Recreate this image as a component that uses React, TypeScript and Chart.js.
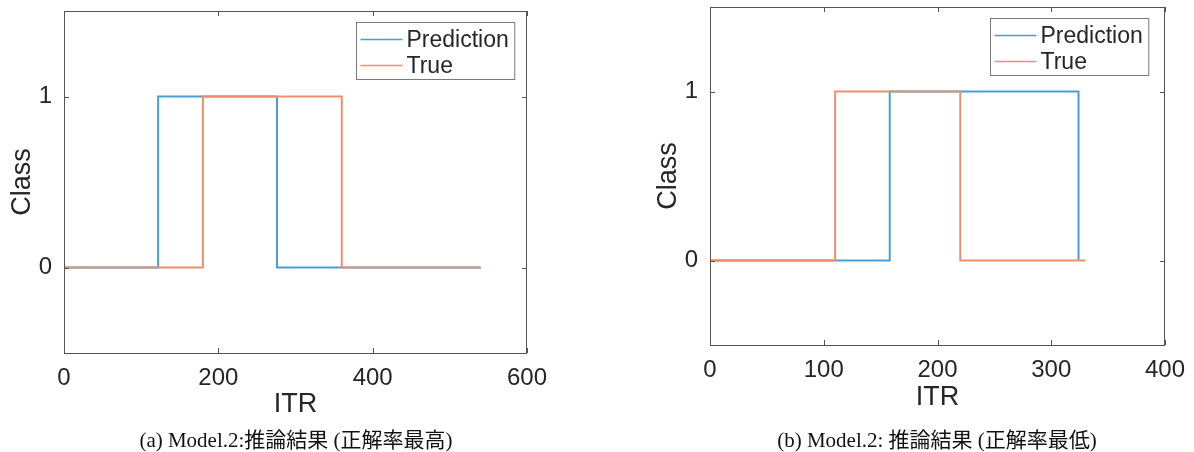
import React, { useEffect, useRef } from "react";
import { Chart, registerables } from "chart.js";

Chart.register(...registerables);

// ---- data (transition points of the step signals) ----
const predAX = [0, 122, 276, 540];
const predAY = [0, 1, 0, 0];
const trueAX = [0, 180, 360, 540];
const trueAY = [0, 1, 0, 0];

const predBX = [0, 158, 324];
const predBY = [0, 1, 0];
const trueBX = [0, 110, 220, 330];
const trueBY = [0, 1, 0, 0];

const xTicksA = [0, 200, 400, 600];
const xTicksB = [0, 100, 200, 300, 400];
const yTicks = [0, 1];
const seriesNames = ["Prediction", "True"];
const xTitle = "ITR";
const yTitle = "Class";
const captionA = "(a) Model.2:推論結果 (正解率最高)";
const captionB = "(b) Model.2: 推論結果 (正解率最低)";

const BLUE = "#4a9dd6";
const ORANGE = "#ee8f6c";
const TEXT = "#262626";
const AXIS = "#555555";
const SANS = '"Liberation Sans", Arial, Helvetica, sans-serif';

Chart.defaults.font.family = SANS;

const matlabAxes = {
  id: "matlabAxes",
  afterDraw(chart: any, _args: any, opts: any) {
    const { ctx, chartArea: a, scales } = chart;
    ctx.save();
    ctx.strokeStyle = AXIS;
    ctx.lineWidth = 1;
    ctx.strokeRect(a.left + 0.5, a.top + 0.5, a.right - a.left - 1, a.bottom - a.top);
    const tl = 5;
    ctx.beginPath();
    scales.x.ticks.forEach((t: any) => {
      const x = Math.round(scales.x.getPixelForValue(t.value)) + 0.5;
      ctx.moveTo(x, a.bottom);
      ctx.lineTo(x, a.bottom - tl);
      ctx.moveTo(x, a.top);
      ctx.lineTo(x, a.top + tl);
    });
    scales.y.ticks.forEach((t: any) => {
      const y = Math.round(scales.y.getPixelForValue(t.value)) + 0.5;
      ctx.moveTo(a.left, y);
      ctx.lineTo(a.left + tl, y);
      ctx.moveTo(a.right, y);
      ctx.lineTo(a.right - tl, y);
    });
    ctx.stroke();

    // legend box
    ctx.font = `23px ${SANS}`;
    const tw = Math.max(...seriesNames.map((n) => ctx.measureText(n).width));
    const lineLen = 42;
    const w = 4 + lineLen + 4 + tw + 6;
    const h = 57;
    const bx = Math.round(a.right - opts.rightGap - w) + 0.5;
    const by = Math.round(a.top + opts.topGap) + 0.5;
    ctx.fillStyle = "#ffffff";
    ctx.fillRect(bx, by, w, h);
    ctx.strokeStyle = "#7a7a7a";
    ctx.strokeRect(bx, by, w, h);
    const colors = [BLUE, ORANGE];
    const rows = [17, 43];
    seriesNames.forEach((n, i) => {
      const y = by + rows[i];
      ctx.strokeStyle = colors[i];
      ctx.lineWidth = 1.5;
      ctx.beginPath();
      ctx.moveTo(bx + 4, y);
      ctx.lineTo(bx + 4 + lineLen, y);
      ctx.stroke();
      ctx.fillStyle = TEXT;
      ctx.textBaseline = "middle";
      ctx.textAlign = "left";
      ctx.fillText(n, bx + 4 + lineLen + 4, y + 1);
    });
    ctx.restore();
  },
};

function pts(xs: number[], ys: number[]) {
  return xs.map((x, i) => ({ x, y: ys[i] }));
}

function makeConfig(p: any) {
  return {
    type: "line",
    data: {
      datasets: [
        {
          label: seriesNames[0],
          data: pts(p.px, p.py),
          borderColor: BLUE,
          borderWidth: 2,
          pointRadius: 0,
          stepped: "before",
          fill: false,
          order: 2,
        },
        {
          label: seriesNames[1],
          data: pts(p.tx, p.ty),
          borderColor: ORANGE,
          borderWidth: 2,
          pointRadius: 0,
          stepped: "before",
          fill: false,
          order: 1,
        },
      ],
    },
    options: {
      responsive: false,
      animation: false,
      events: [],
      layout: { padding: { left: p.padL, right: p.padR, top: p.padT, bottom: 0 } },
      plugins: {
        legend: { display: false },
        tooltip: { enabled: false },
        matlabAxes: { rightGap: p.legRight, topGap: p.legTop },
      },
      scales: {
        x: {
          type: "linear",
          min: p.xTicks[0],
          max: p.xTicks[p.xTicks.length - 1],
          afterBuildTicks: (s: any) => {
            s.ticks = p.xTicks.map((v: number) => ({ value: v }));
          },
          afterFit: (s: any) => {
            s.height = p.xH;
            s.paddingLeft = 0;
            s.paddingRight = 0;
          },
          grid: { display: false, drawTicks: false },
          border: { display: false },
          ticks: {
            font: { size: 24, family: SANS },
            color: TEXT,
            padding: 11,
            maxRotation: 0,
            autoSkip: false,
          },
          title: {
            display: true,
            text: xTitle,
            font: { size: 27, family: SANS },
            color: TEXT,
            padding: { top: 0, bottom: p.xTitlePad },
          },
        },
        y: {
          type: "linear",
          min: -0.5,
          max: 1.5,
          afterBuildTicks: (s: any) => {
            s.ticks = yTicks.map((v) => ({ value: v }));
          },
          afterFit: (s: any) => {
            s.width = 64;
            s.paddingTop = 0;
            s.paddingBottom = 0;
          },
          grid: { display: false, drawTicks: false },
          border: { display: false },
          ticks: {
            font: { size: 24, family: SANS },
            color: TEXT,
            padding: 12,
          },
          title: {
            display: true,
            text: yTitle,
            font: { size: 27, family: SANS },
            color: TEXT,
            padding: { top: 6, bottom: 0 },
          },
        },
      },
    },
    plugins: [matlabAxes],
  };
}

function Panel(props: { left: number; width: number; cfg: any }) {
  const ref = useRef<HTMLCanvasElement | null>(null);
  useEffect(() => {
    if (!ref.current) return;
    const chart = new Chart(ref.current, makeConfig(props.cfg) as any);
    return () => chart.destroy();
  }, []);
  return (
    <canvas
      ref={ref}
      width={props.width}
      height={452}
      style={{ position: "absolute", left: props.left, top: 0, width: props.width, height: 452 }}
    />
  );
}

const captionStyle: React.CSSProperties = {
  position: "absolute",
  top: 427,
  height: 26,
  lineHeight: "26px",
  fontFamily: '"Liberation Serif", "Noto Sans CJK JP", serif',
  fontSize: 21,
  color: "#111",
  textAlign: "center",
  whiteSpace: "nowrap",
};

export default function App() {
  const cfgA = {
    px: predAX, py: predAY, tx: trueAX, ty: trueAY, xTicks: xTicksA,
    padL: 0, padR: 73, padT: 11, xH: 99, xTitlePad: 31, legRight: 13, legTop: 11,
  };
  const cfgB = {
    px: predBX, py: predBY, tx: trueBX, ty: trueBY, xTicks: xTicksB,
    padL: 46, padR: 29, padT: 7, xH: 107, xTitlePad: 38, legRight: 17, legTop: 11,
  };
  return (
    <div style={{ position: "absolute", left: 0, top: 0, width: 1194, height: 452, background: "#fff", overflow: "hidden" }}>
      <Panel left={0} width={600} cfg={cfgA} />
      <Panel left={600} width={594} cfg={cfgB} />
      <div style={{ ...captionStyle, left: 96, width: 400 }}>{captionA}</div>
      <div style={{ ...captionStyle, left: 737, width: 400 }}>{captionB}</div>
    </div>
  );
}
